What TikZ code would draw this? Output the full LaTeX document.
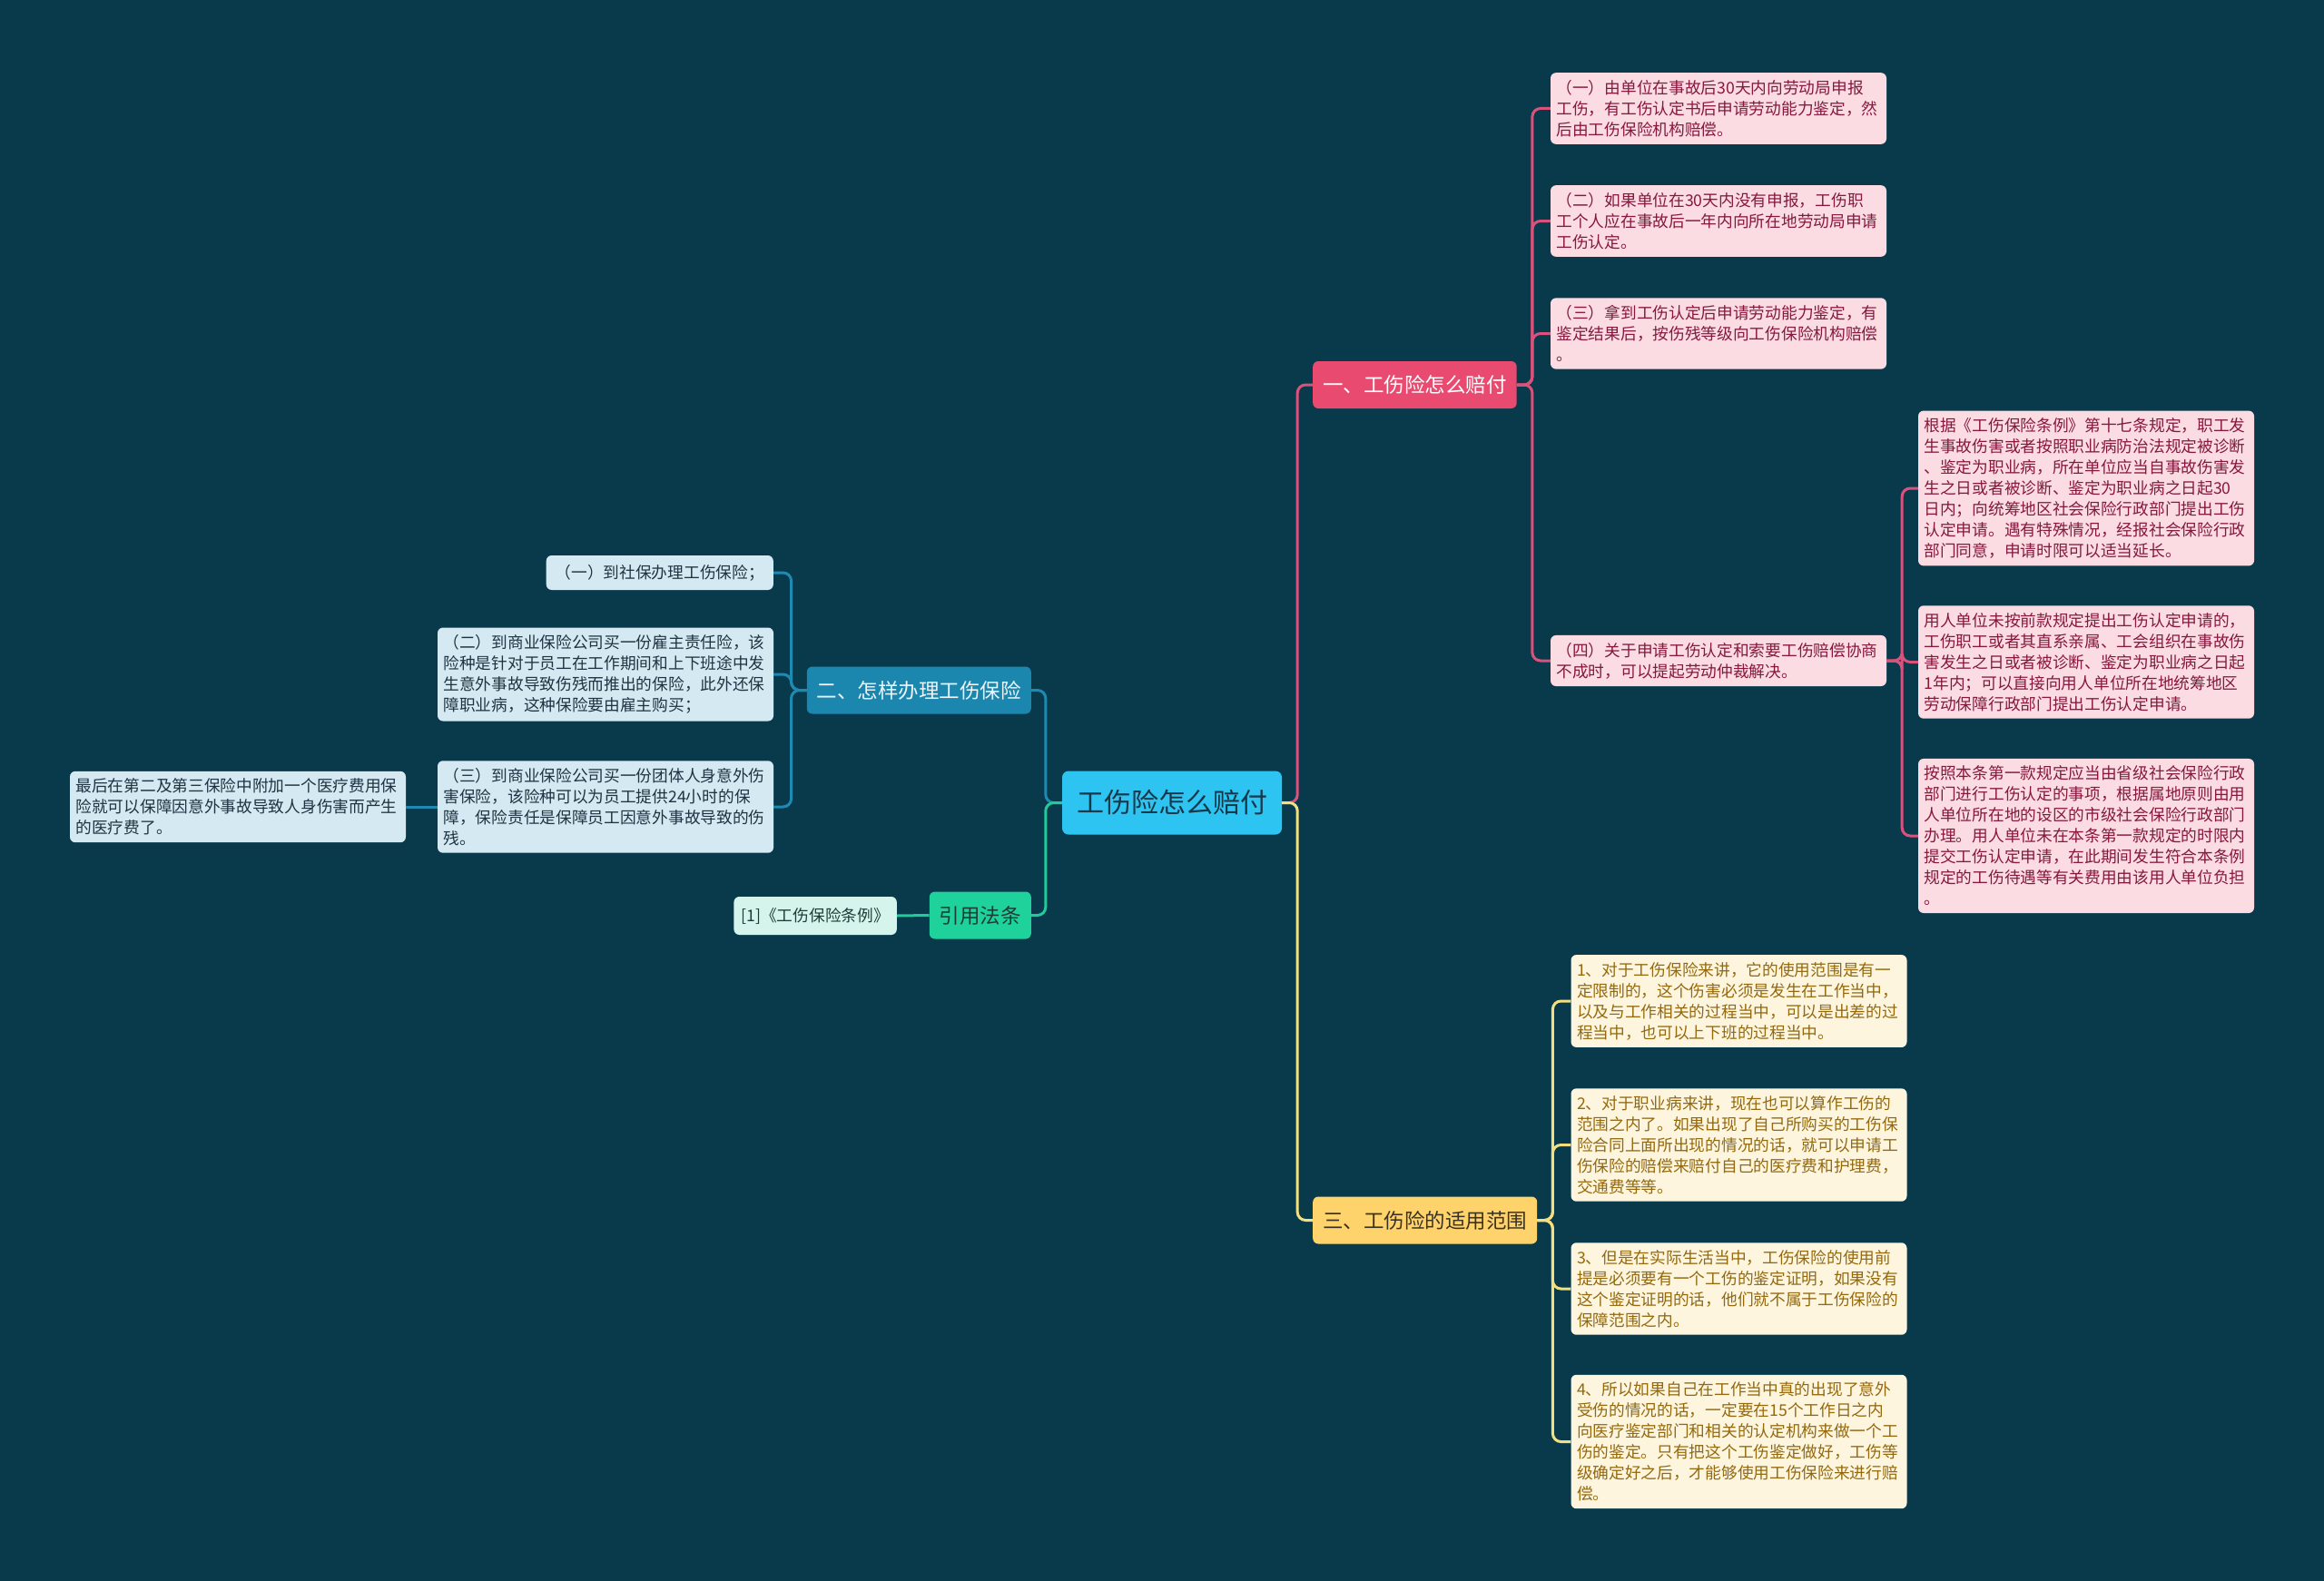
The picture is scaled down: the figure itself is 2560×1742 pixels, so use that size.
\documentclass[tikz,border=0pt]{standalone}
\usepackage{fontspec}
\setmainfont{Noto Sans CJK SC}
\definecolor{bg}{HTML}{083A4C}
\definecolor{rootc}{HTML}{2EC4F2}
\definecolor{roottext}{HTML}{15384A}
\definecolor{pbranch}{HTML}{E94A70}
\definecolor{pline}{HTML}{D9527C}
\definecolor{pleaf}{HTML}{FCDCE3}
\definecolor{ptext}{HTML}{86183E}
\definecolor{ybranch}{HTML}{FFD36C}
\definecolor{yline}{HTML}{F3DF82}
\definecolor{yleaf}{HTML}{FDF5DE}
\definecolor{ytext}{HTML}{94690E}
\definecolor{ybtext}{HTML}{3A3220}
\definecolor{bbranch}{HTML}{1B87AF}
\definecolor{bline}{HTML}{1E8AB2}
\definecolor{bleaf}{HTML}{D4E9F1}
\definecolor{btext}{HTML}{1E3442}
\definecolor{gbranch}{HTML}{1FD29C}
\definecolor{gline}{HTML}{22C99A}
\definecolor{gleaf}{HTML}{D5F4EB}
\definecolor{gtext}{HTML}{1C3D36}
\begin{document}
\begin{tikzpicture}[x=1pt,y=-1pt,
  leaf/.style={rounded corners=6pt, inner xsep=6.5pt, inner ysep=8pt, text width=357pt, align=left, font=\fontsize{17.7}{23}\selectfont},
  pleafs/.style={leaf, fill=pleaf, text=ptext},
  yleafs/.style={leaf, fill=yleaf, text=ytext},
  bleafs/.style={leaf, fill=bleaf, text=btext},
  branch/.style={rounded corners=6pt, inner xsep=11pt, inner ysep=0pt, minimum height=52pt, font=\fontsize{22.5}{27}\selectfont},
  conn/.style={line width=3pt, rounded corners=9pt},
]
\fill[bg] (0,0) rectangle (2560,1742);
\useasboundingbox (0,0) rectangle (2560,1742);

% root
\node[rounded corners=7pt, fill=rootc, text=roottext, minimum width=242pt, minimum height=70pt, font=\fontsize{30}{36}\selectfont] (root) at (1291,884.5) {工伤险怎么赔付};

% branches
\node[branch, fill=pbranch, text=white, anchor=west] (b1) at (1446,424) {一、工伤险怎么赔付};
\node[branch, fill=ybranch, text=ybtext, anchor=west] (b3) at (1446,1344.5) {三、工伤险的适用范围};
\node[branch, fill=bbranch, text=white!92!bbranch, anchor=east] (b2) at (1136,760.5) {二、怎样办理工伤保险};
\node[branch, fill=gbranch, text=gtext, anchor=east] (b4) at (1136,1008.5) {引用法条};

% pink leaves
\node[pleafs] (p1) at (1893,119.5) {（一）由单位在事故后30天内向劳动局申报\\工伤，有工伤认定书后申请劳动能力鉴定，然\\后由工伤保险机构赔偿。};
\node[pleafs] (p2) at (1893,243.5) {（二）如果单位在30天内没有申报，工伤职\\工个人应在事故后一年内向所在地劳动局申请\\工伤认定。};
\node[pleafs] (p3) at (1893,367.5) {（三）拿到工伤认定后申请劳动能力鉴定，有\\鉴定结果后，按伤残等级向工伤保险机构赔偿\\。};
\node[pleafs] (p4) at (1893,728) {（四）关于申请工伤认定和索要工伤赔偿协商\\不成时，可以提起劳动仲裁解决。};

\node[pleafs] (pa) at (2298,538) {根据《工伤保险条例》第十七条规定，职工发\\生事故伤害或者按照职业病防治法规定被诊断\\、鉴定为职业病，所在单位应当自事故伤害发\\生之日或者被诊断、鉴定为职业病之日起30\\日内；向统筹地区社会保险行政部门提出工伤\\认定申请。遇有特殊情况，经报社会保险行政\\部门同意，申请时限可以适当延长。};
\node[pleafs] (pb) at (2298,729.5) {用人单位未按前款规定提出工伤认定申请的，\\工伤职工或者其直系亲属、工会组织在事故伤\\害发生之日或者被诊断、鉴定为职业病之日起\\1年内；可以直接向用人单位所在地统筹地区\\劳动保障行政部门提出工伤认定申请。};
\node[pleafs] (pc) at (2298,921) {按照本条第一款规定应当由省级社会保险行政\\部门进行工伤认定的事项，根据属地原则由用\\人单位所在地的设区的市级社会保险行政部门\\办理。用人单位未在本条第一款规定的时限内\\提交工伤认定申请，在此期间发生符合本条例\\规定的工伤待遇等有关费用由该用人单位负担\\。};

% yellow leaves
\node[yleafs] (y1) at (1915.5,1103) {1、对于工伤保险来讲，它的使用范围是有一\\定限制的，这个伤害必须是发生在工作当中，\\以及与工作相关的过程当中，可以是出差的过\\程当中，也可以上下班的过程当中。};
\node[yleafs] (y2) at (1915.5,1261.5) {2、对于职业病来讲，现在也可以算作工伤的\\范围之内了。如果出现了自己所购买的工伤保\\险合同上面所出现的情况的话，就可以申请工\\伤保险的赔偿来赔付自己的医疗费和护理费，\\交通费等等。};
\node[yleafs] (y3) at (1915.5,1420) {3、但是在实际生活当中，工伤保险的使用前\\提是必须要有一个工伤的鉴定证明，如果没有\\这个鉴定证明的话，他们就不属于工伤保险的\\保障范围之内。};
\node[yleafs] (y4) at (1915.5,1588.5) {4、所以如果自己在工作当中真的出现了意外\\受伤的情况的话，一定要在15个工作日之内\\向医疗鉴定部门和相关的认定机构来做一个工\\伤的鉴定。只有把这个工伤鉴定做好，工伤等\\级确定好之后，才能够使用工伤保险来进行赔\\偿。};

% blue leaves
\node[rounded corners=6pt, inner xsep=10pt, inner ysep=0pt, minimum height=38pt, fill=bleaf, text=btext, font=\fontsize{17.7}{23}\selectfont, anchor=east] (l1) at (852,631) {（一）到社保办理工伤保险；};
\node[bleafs] (l2) at (667,743) {（二）到商业保险公司买一份雇主责任险，该\\险种是针对于员工在工作期间和上下班途中发\\生意外事故导致伤残而推出的保险，此外还保\\障职业病，这种保险要由雇主购买；};
\node[bleafs] (l3) at (667,889) {（三）到商业保险公司买一份团体人身意外伤\\害保险，该险种可以为员工提供24小时的保\\障，保险责任是保障员工因意外事故导致的伤\\残。};
\node[bleafs] (l4) at (262,889) {最后在第二及第三保险中附加一个医疗费用保\\险就可以保障因意外事故导致人身伤害而产生\\的医疗费了。};

% green leaf
\node[rounded corners=6pt, inner xsep=8pt, inner ysep=0pt, minimum height=42pt, fill=gleaf, text=gtext, font=\fontsize{17.7}{23}\selectfont, anchor=east] (g1) at (988,1009) {[1]《工伤保险条例》};

% connectors: root to branches
\draw[conn, pline] (root.east) -- ++(17,0) |- (b1.west);
\draw[conn, yline] (root.east) -- ++(17,0) |- (b3.west);
\draw[conn, bline] (root.west) -- ++(-18,0) |- (b2.east);
\draw[conn, gline] (root.west) -- ++(-18,0) |- (b4.east);

% pink
\foreach \n in {p1,p2,p3,p4}
  \draw[conn, pline] (b1.east) -- ++(17,0) |- (\n.west);
\foreach \n in {pa,pb,pc}
  \draw[conn, pline] (p4.east) -- ++(17,0) |- (\n.west);
% yellow
\foreach \n in {y1,y2,y3,y4}
  \draw[conn, yline] (b3.east) -- ++(17,0) |- (\n.west);
% blue
\foreach \n in {l1,l2,l3}
  \draw[conn, bline] (b2.west) -- ++(-17,0) |- (\n.east);
\draw[conn, bline] (l3.west) -- (l4.east);
% green
\draw[conn, gline] (b4.west) -- (g1.east);
\end{tikzpicture}
\end{document}
